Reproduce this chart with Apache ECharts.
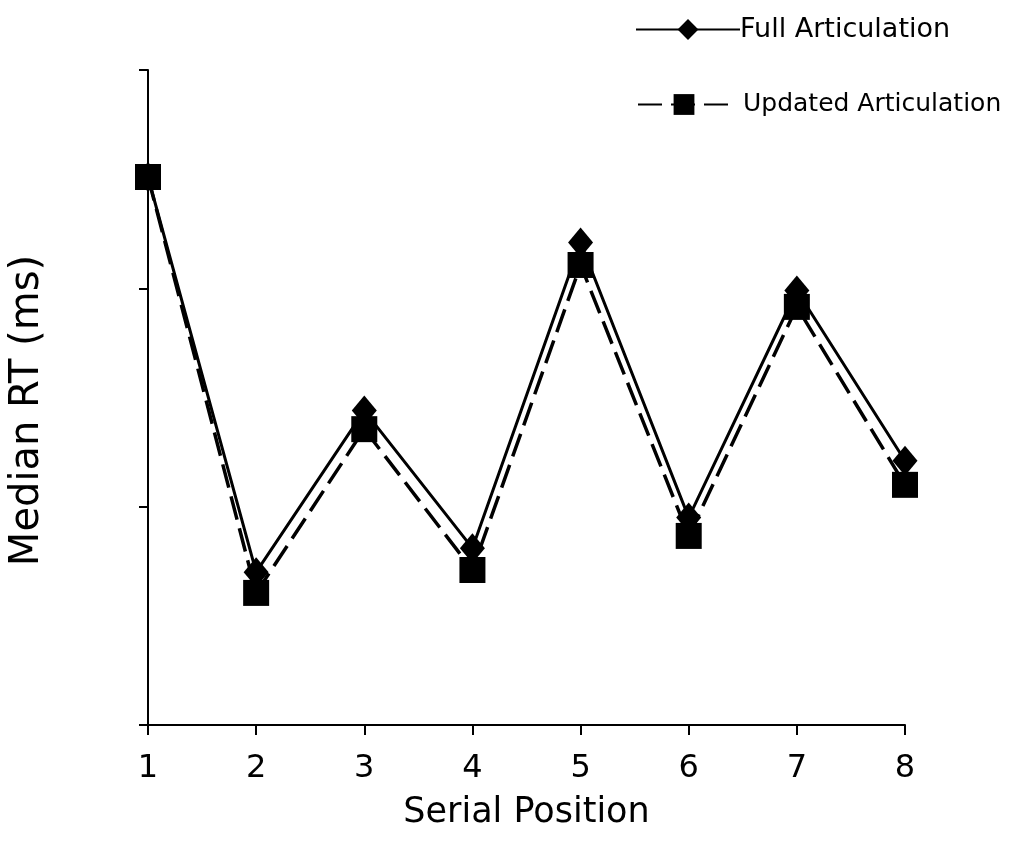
<!DOCTYPE html>
<html>
<head>
<meta charset="utf-8">
<script src="https://cdn.jsdelivr.net/npm/echarts@6/dist/echarts.min.js"></script>
<style>
html,body{margin:0;padding:0;background:#fff;}
#c{width:1032px;height:851px;}
</style>
</head>
<body>
<div id="c"></div>
<script>
const positions = [1, 2, 3, 4, 5, 6, 7, 8];
const fullArticulation = [2.51, 0.70, 1.44, 0.81, 2.21, 0.95, 1.99, 1.21];
const updatedArticulation = [2.51, 0.605, 1.355, 0.71, 2.107, 0.866, 1.915, 1.10];
const seriesNames = ['Full Articulation', 'Updated Articulation'];
const xTitle = 'Serial Position';
const yTitle = 'Median RT (ms)';

const chart = echarts.init(document.getElementById('c'));
const font = 'DejaVu Sans, Verdana, sans-serif';
chart.setOption({
  animation: false,
  backgroundColor: '#fff',
  grid: { left: 148, right: 127, top: 70, bottom: 126 },
  legend: [
    {
      left: 630, top: 11,
      itemWidth: 104, itemHeight: 26, itemGap: 0,
      textStyle: { fontFamily: font, fontSize: 27, color: '#000', padding: [0, 0, 0, -5] },
      data: [seriesNames[0]]
    },
    {
      left: 632, top: 87,
      itemWidth: 92, itemHeight: 26, itemGap: 0,
      textStyle: { fontFamily: font, fontSize: 25, color: '#000', padding: [0, 0, 0, 8] },
      data: [seriesNames[1]]
    }
  ],
  xAxis: {
    type: 'value',
    min: 1, max: 8, interval: 1,
    name: xTitle,
    nameLocation: 'middle',
    nameGap: 70,
    nameTextStyle: { fontFamily: font, fontSize: 35, color: '#000' },
    axisLine: { lineStyle: { color: '#000', width: 2 } },
    axisTick: { show: true, length: 10, lineStyle: { color: '#000', width: 2 } },
    axisLabel: { fontFamily: font, fontSize: 32, color: '#000', margin: 28 },
    splitLine: { show: false }
  },
  yAxis: {
    type: 'value',
    min: 0, max: 3, interval: 1,
    name: yTitle,
    nameLocation: 'middle',
    nameGap: 100,
    nameTextStyle: { fontFamily: font, fontSize: 40, color: '#000', padding: [0, 26, 0, 0] },
    axisLine: { show: true, lineStyle: { color: '#000', width: 2 } },
    axisTick: { show: true, length: 9, lineStyle: { color: '#000', width: 2 } },
    axisLabel: { show: false },
    splitLine: { show: false }
  },
  series: [
    {
      name: seriesNames[0],
      type: 'line',
      data: positions.map((p, i) => [p, fullArticulation[i]]),
      symbol: 'diamond',
      symbolSize: [25, 30],
      itemStyle: { color: '#000' },
      lineStyle: { color: '#000', width: 3, type: 'solid' },
      z: 2
    },
    {
      name: seriesNames[1],
      type: 'line',
      data: positions.map((p, i) => [p, updatedArticulation[i]]),
      symbol: 'rect',
      symbolSize: 26,
      itemStyle: { color: '#000' },
      lineStyle: { color: '#000', width: 3.5, type: [24, 9] },
      z: 3
    }
  ]
});
</script>
</body>
</html>
